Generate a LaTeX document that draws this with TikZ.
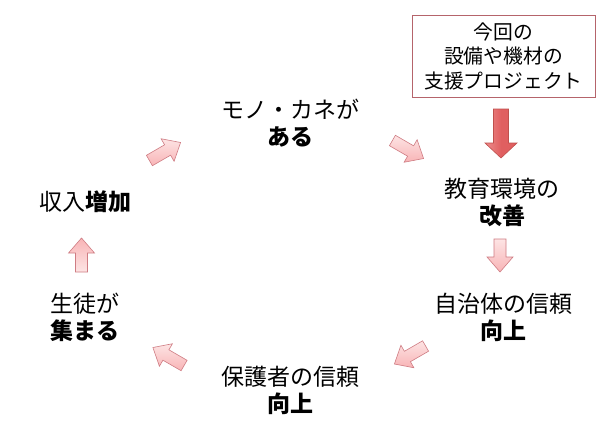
\documentclass[tikz,border=0pt]{standalone}
\usepackage{fontspec}
\setmainfont{Noto Sans CJK JP}
\newfontfamily\boxfont{Noto Sans CJK JP}
\definecolor{pinkfill}{HTML}{F8B4B6}
\definecolor{pinklight}{HTML}{FDE4E4}
\definecolor{pinkline}{HTML}{CF7C83}
\definecolor{redfill}{HTML}{E05F60}
\definecolor{redlight}{HTML}{EE8E8E}
\definecolor{redline}{HTML}{C0504D}
\definecolor{boxline}{HTML}{B5646B}
\newcommand\fatarrow[8]{% x y angle length shaftw headw headlen style
  \begin{scope}[shift={(#1,#2)},rotate=#3]
    \path[#8] (-#4/2,-#5/2) -- ({#4/2-#7},-#5/2) -- ({#4/2-#7},-#6/2) -- (#4/2,0)
      -- ({#4/2-#7},#6/2) -- ({#4/2-#7},#5/2) -- (-#4/2,#5/2) -- cycle;
  \end{scope}}
\tikzset{
  pinkarrow/.style={draw=pinkline,line width=0.6pt,top color=pinklight,bottom color=pinkfill,line join=miter},
  pinkarrowup/.style={draw=pinkline,line width=0.6pt,top color=pinkfill,bottom color=pinklight,line join=miter},
  redarrow/.style={draw=redline,line width=0.6pt,left color=redlight,right color=redfill,middle color=redfill,line join=miter},
  lbl/.style={align=center,font=\fontsize{23}{27}\selectfont,inner sep=0pt},
  projbox/.style={draw=boxline,line width=0.8pt,align=center,font=\boxfont\fontsize{19.8}{24.5}\selectfont,minimum width=183pt,minimum height=82pt,inner sep=0pt}
}
\begin{document}
\begin{tikzpicture}[x=1pt,y=-1pt]
\useasboundingbox[fill=white] (0,0) rectangle (613,431);
\node[projbox] (proj) at (503.5,56) {今回の\\設備や機材の\\支援プロジェクト};
\node[lbl] (mono) at (290,123) {モノ・カネが\\\textbf{ある}};
\node[lbl] (kyoiku) at (502,202) {教育環境の\\\textbf{改善}};
\node[lbl] (jichi) at (503,317) {自治体の信頼\\\textbf{向上}};
\node[lbl] (hogo) at (290,390) {保護者の信頼\\\textbf{向上}};
\node[lbl] (seito) at (85,317) {生徒が\\\textbf{集まる}};
\node[lbl] (shunyu) at (85,202) {収入\textbf{増加}};
\fatarrow{501}{133.5}{-90}{49}{15}{32}{15}{redarrow}
\fatarrow{500}{255.5}{-90}{33}{12}{26}{15}{pinkarrow}
\fatarrow{81.5}{255}{90}{34}{12}{26}{15}{pinkarrowup}
\fatarrow{165}{151.5}{30}{36}{12}{26}{15}{pinkarrow}
\fatarrow{408}{149.5}{-30}{36}{12}{26}{15}{pinkarrow}
\fatarrow{410}{355}{-150}{36}{12}{26}{15}{pinkarrow}
\fatarrow{168.5}{356.5}{150}{36}{12}{26}{15}{pinkarrow}
\end{tikzpicture}
\end{document}
